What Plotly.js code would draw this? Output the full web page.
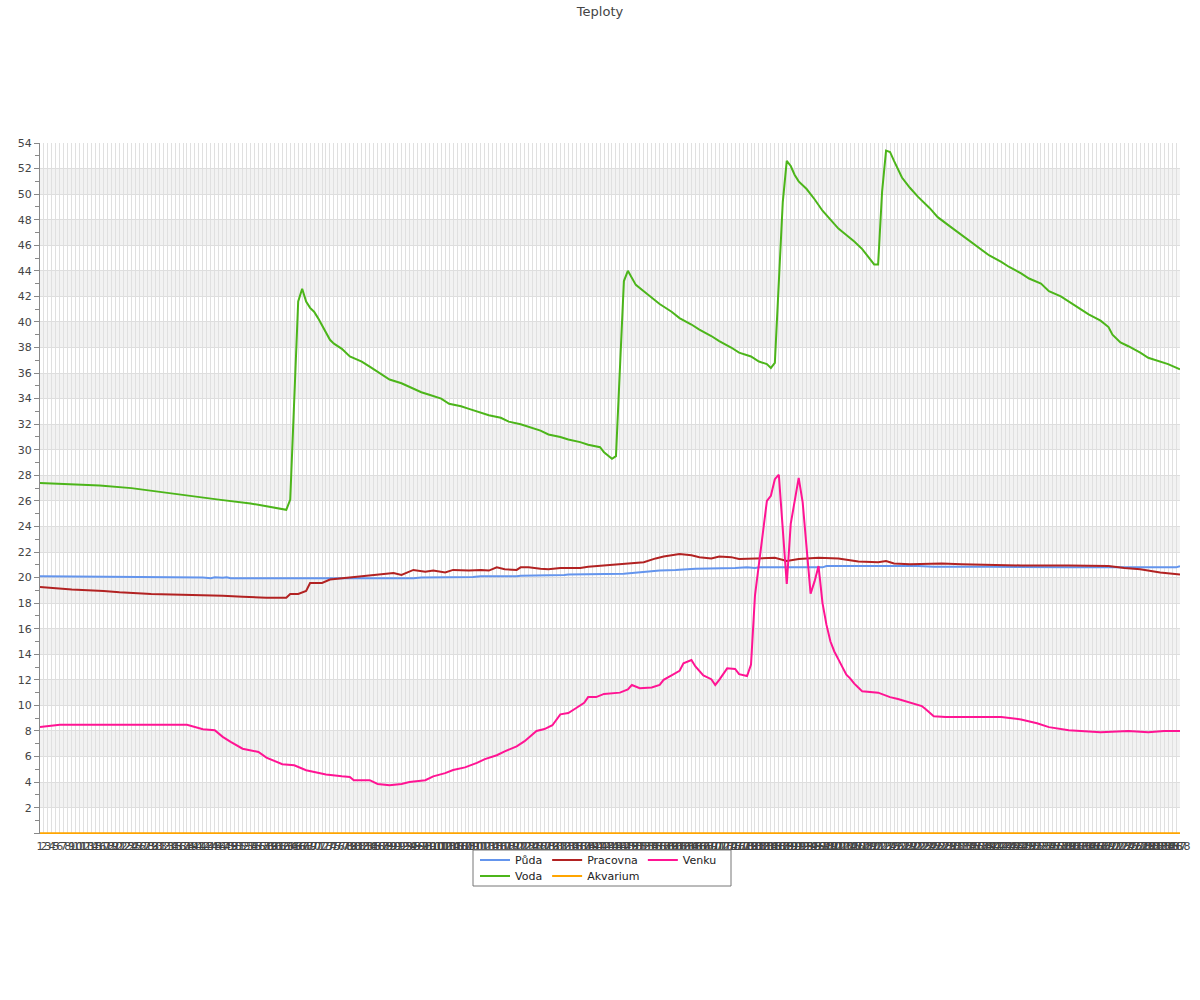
<!DOCTYPE html>
<html>
<head>
<meta charset="utf-8">
<script src="https://cdn.plot.ly/plotly-3.0.1.min.js"></script>
<style>html,body{margin:0;padding:0;background:#fff}#chart{width:1200px;height:1000px}</style>
</head>
<body>
<div id="chart"></div>
<script>
// Category labels (x axis)
const xLabels = [1,2,3,4,5,6,7,8,9,10,11,12,13,14,15,16,17,18,19,20,21,22,23,24,25,26,27,28,29,30,
31,32,33,34,35,36,37,38,39,40,41,42,43,44,45,46,47,48,49,50,51,52,53,54,55,56,57,58,59,60,
61,62,63,64,65,66,67,68,69,70,71,72,73,74,75,76,77,78,79,80,81,82,83,84,85,86,87,88,89,90,
91,92,93,94,95,96,97,98,99,100,101,102,103,104,105,106,107,108,109,110,111,112,113,114,115,116,117,118,119,120,
121,122,123,124,125,126,127,128,129,130,131,132,133,134,135,136,137,138,139,140,141,142,143,144,145,146,147,148,149,150,
151,152,153,154,155,156,157,158,159,160,161,162,163,164,165,166,167,168,169,170,171,172,173,174,175,176,177,178,179,180,
181,182,183,184,185,186,187,188,189,190,191,192,193,194,195,196,197,198,199,200,201,202,203,204,205,206,207,208,209,210,
211,212,213,214,215,216,217,218,219,220,221,222,223,224,225,226,227,228,229,230,231,232,233,234,235,236,237,238,239,240,
241,242,243,244,245,246,247,248,249,250,251,252,253,254,255,256,257,258,259,260,261,262,263,264,265,266,267,268,269,270,
271,272,273,274,275,276,277,278,279,280,281,282,283,284,285,286,287,288];

// Půda
const pudaX = [1,25,26,42,44,45,47,48,49,95,97,110,112,121,122,133,134,148,151,154,157,161,164,166,176,179,181,182,198,199,222,226,240,260,287,288];
const pudaY = [20.1,20.1,20.05,20.0,19.95,20.02,19.98,20.02,19.95,19.95,20.0,20.05,20.1,20.1,20.15,20.2,20.25,20.3,20.4,20.5,20.55,20.6,20.65,20.7,20.75,20.8,20.75,20.8,20.8,20.9,20.9,20.85,20.85,20.8,20.8,20.9];

// Voda
const vodaX = [1,9,16,24,31,39,46,54,59,63, 64,66,67,68,69,70,71,72,73,74, 75,77,79,82,84,87,89,92,94,97,
 99,102,104,107,109,112,114,117,119,122, 124,127,129,132,134,137,139,142,143,145, 146,148,149,150,151,153,155,157,160,162,
 165,167,170,172,175,177,180,182,184,185, 186,188,189,190,191,192,194,196,198,200, 202,204,206,208,209,210,211,212,213,214,
 215,216,217,218,220,222,225,227,230,233, 235,238,240,243,245,248,250,253,255,258, 260,263,265,268,270,271,272,273,275,278,
 280,283,285,288];
const vodaY = [27.4,27.3,27.2,27.0,26.7,26.4,26.1,25.8,25.5,25.3, 26.1,41.6,42.6,41.6,41.1,40.8,40.3,39.7,39.1,38.6, 38.3,37.9,37.3,36.9,36.5,35.9,35.5,35.2,34.9,34.5,
 34.3,34.0,33.6,33.4,33.2,32.9,32.7,32.5,32.2,32.0, 31.8,31.5,31.2,31.0,30.8,30.6,30.4,30.2,29.8,29.3, 29.5,43.2,44.0,43.4,42.9,42.4,41.9,41.4,40.8,40.3,
 39.8,39.4,38.9,38.5,38.0,37.6,37.3,36.9,36.7,36.4, 36.8,49.4,52.6,52.2,51.5,51.0,50.4,49.6,48.7,48.0, 47.3,46.8,46.3,45.7,45.3,44.9,44.5,44.5,50.2,53.4,
 53.3,52.6,51.9,51.3,50.5,49.8,48.9,48.2,47.5,46.8, 46.3,45.6,45.2,44.7,44.3,43.8,43.4,43.0,42.4,42.0, 41.6,41.0,40.6,40.1,39.6,39.0,38.7,38.4,38.1,37.6,
 37.2,36.9,36.7,36.3];

// Pracovna
const pracovnaX = [1,9,17,21,29,42,47,52,58,63, 64,66,68,69,72,74,79,82,87,90, 92,95,98,100,103,105,109,112,114,116,
 118,121,122,124,127,129,132,137,139,145, 150,153,156,158,162,165,167,170,172,175, 177,180,183,186,189,192,197,202,207,210,
 212,214,216,220,228,233,238,243,248,260, 270,274,278,283,288];
const pracovnaY = [19.27,19.07,18.96,18.86,18.72,18.65,18.57,18.5,18.42,18.42, 18.72,18.72,18.96,19.58,19.58,19.85,20.0,20.1,20.25,20.35, 20.2,20.6,20.45,20.55,20.4,20.6,20.55,20.6,20.55,20.8,
 20.65,20.6,20.8,20.8,20.7,20.65,20.75,20.75,20.85,21.0, 21.1,21.2,21.5,21.65,21.85,21.75,21.6,21.5,21.65,21.6, 21.45,21.5,21.5,21.55,21.3,21.45,21.55,21.5,21.25,21.2,
 21.2,21.3,21.1,21.05,21.1,21.05,21.0,21.0,20.95,20.95, 20.9,20.75,20.65,20.4,20.25];

// Akvarium
const akvariumX = [1,288];
const akvariumY = [0,0];

// Venku
const venkuX = [1,6,38,42,45,47,49,52,56,58, 62,65,68,71,73,77,79,80,84,86, 89,92,94,98,100,103,105,108,111,113,
 116,118,121,123,126,128,130,132,134,136, 138,139,141,143,147,149,150,152,155,157, 158,160,162,163,165,166,168,170,171,172,
 174,176,177,179,180,181,184,185,186,187, 188,189,190,191,192,193,194,195,196,197, 198,199,200,201,202,203,204,205,206,207,
 208,212,215,217,220,223,224,226,229,243, 248,252,255,258,260,263,268,275,280,284,288];
const venkuY = [8.32,8.48,8.48,8.14,8.06,7.54,7.15,6.61,6.36,5.92, 5.4,5.32,4.93,4.75,4.6,4.45,4.4,4.15,4.15,3.85, 3.75,3.85,4.0,4.15,4.45,4.7,4.95,5.15,5.5,5.8,
 6.1,6.4,6.8,7.2,8.0,8.15,8.45,9.3,9.4,9.8, 10.2,10.65,10.65,10.9,11.0,11.25,11.6,11.35,11.4,11.6, 12.0,12.35,12.7,13.3,13.55,13.05,12.35,12.05,11.6,12.0,
 12.9,12.85,12.45,12.3,13.2,18.6,26.0,26.4,27.7,28.05, 23.8,19.5,24.2,26.0,27.8,25.9,22.3,18.75,19.7,20.9, 18.0,16.3,15.0,14.2,13.6,13.0,12.4,12.1,11.7,11.4,
 11.1,11.0,10.65,10.5,10.25,9.95,9.7,9.15,9.1,9.1, 8.9,8.6,8.3,8.15,8.05,8.0,7.9,8.0,7.9,8.0,8.0];

const yTickVals = [0,2,4,6,8,10,12,14,16,18,20,22,24,26,28,30,32,34,36,38,40,42,44,46,48,50,52,54];
const yTickText = ['','2','4','6','8','10','12','14','16','18','20','22','24','26','28','30','32','34','36','38','40','42','44','46','48','50','52','54'];
const bandStarts = [2,6,10,14,18,22,26,30,34,38,42,46,50];

const FONT = 'DejaVu Sans, sans-serif';

const traces = [
  {name:'Půda', x:pudaX, y:pudaY, color:'#6495ed', legend:'legend'},
  {name:'Voda', x:vodaX, y:vodaY, color:'#4cb51a', legend:'legend2'},
  {name:'Pracovna', x:pracovnaX, y:pracovnaY, color:'#b22222', legend:'legend'},
  {name:'Akvarium', x:akvariumX, y:akvariumY, color:'#ffa500', legend:'legend2'},
  {name:'Venku', x:venkuX, y:venkuY, color:'#ff1493', legend:'legend'}
].map(s => ({
  type:'scatter', mode:'lines', name:s.name, x:s.x, y:s.y,
  line:{color:s.color, width:2}, legend:s.legend, hoverinfo:'skip'
}));

const shapes = bandStarts.map(b => ({
  type:'rect', xref:'x', yref:'y', x0:1, x1:288, y0:b, y1:b+2,
  fillcolor:'#f2f2f2', line:{width:0}, layer:'below'
}));
shapes.push({
  type:'rect', xref:'paper', yref:'paper',
  x0:(473-40)/1140, x1:(731-40)/1140, y0:(834-850)/691, y1:(834-886)/691,
  line:{color:'#777', width:1}, fillcolor:'rgba(0,0,0,0)', layer:'above'
});

const layout = {
  width:1200, height:1000,
  margin:{l:40, r:20, t:143, b:166, pad:0},
  paper_bgcolor:'#fff', plot_bgcolor:'#fff',
  font:{family:FONT, size:11, color:'#444'},
  title:{text:'Teploty', x:0.5, xanchor:'center', y:0.989, yanchor:'middle', yref:'container',
         font:{family:FONT, size:13, color:'#444'}},
  xaxis:{
    type:'linear', range:[1,288], tickmode:'array', tickvals:xLabels, ticktext:xLabels.map(String),
    tickangle:0, showgrid:true, gridcolor:'#e0e0e0', gridwidth:1, zeroline:false, showline:false,
    ticks:'', tickfont:{family:FONT, size:11, color:'#444'}, ticklabelstandoff:4, fixedrange:true
  },
  yaxis:{
    range:[-0.06,54], tickmode:'array', tickvals:yTickVals, ticktext:yTickText,
    showgrid:true, gridcolor:'#dedede', gridwidth:1, zeroline:false,
    showline:true, linecolor:'#888', linewidth:1,
    ticks:'outside', ticklen:5, tickcolor:'#888', tickwidth:1,
    minor:{tickmode:'linear', tick0:0, dtick:1, ticks:'outside', ticklen:4, tickcolor:'#888', showgrid:false},
    tickfont:{family:FONT, size:11, color:'#444'}, fixedrange:true
  },
  showlegend:true,
  legend:{orientation:'h', x:(475-40)/1140, xanchor:'left', y:(834-860)/691, yanchor:'middle',
          bgcolor:'rgba(0,0,0,0)', borderwidth:0, font:{family:FONT, size:11, color:'#222'}, traceorder:'normal'},
  legend2:{orientation:'h', x:(475-40)/1140, xanchor:'left', y:(834-876)/691, yanchor:'middle',
          bgcolor:'rgba(0,0,0,0)', borderwidth:0, font:{family:FONT, size:11, color:'#222'}, traceorder:'normal'},
  shapes:shapes
};

Plotly.newPlot('chart', traces, layout, {displayModeBar:false, staticPlot:true});
</script>
</body>
</html>
